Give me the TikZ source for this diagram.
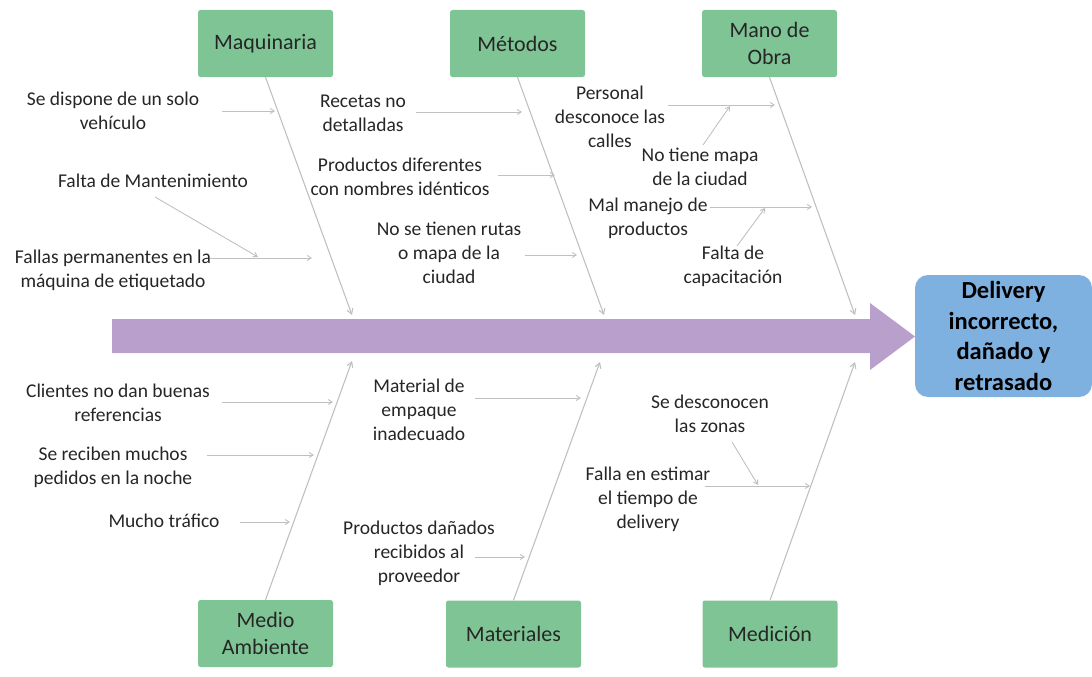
\documentclass[tikz,border=0pt]{standalone}
\usepackage{fontspec}
\setmainfont{Carlito}
\usetikzlibrary{arrows.meta}
\definecolor{catgreen}{RGB}{127,196,148}
\definecolor{spinecol}{RGB}{185,160,204}
\definecolor{headblue}{RGB}{126,176,224}
\definecolor{bonecol}{RGB}{192,192,192}
\definecolor{txt}{RGB}{38,38,38}
\begin{document}
\begin{tikzpicture}[x=1pt,y=-1pt,
  cat/.style={fill=catgreen, rounded corners=2.5pt, minimum width=135pt, minimum height=67pt,
    font=\fontsize{22}{27}\selectfont, text=txt, align=center, inner sep=0pt},
  lab/.style={font=\fontsize{19.5}{23.8}\selectfont, text=txt, align=center, inner sep=0pt},
  headbox/.style={fill=headblue, rounded corners=13pt, minimum width=177pt, minimum height=122pt,
    font=\fontsize{24.5}{30.5}\selectfont\bfseries, text=black, align=center, inner sep=0pt},
  bonearrow/.style={draw=bonecol, line width=1.1pt, -{Straight Barb[length=5pt,width=6pt]}},
  subarrow/.style={draw=bonecol, line width=0.9pt, -{Straight Barb[length=4pt,width=5pt]}}
]
\useasboundingbox (0,0) rectangle (1092,677);

% spine arrow
\fill[spinecol] (112,319) -- (870,319) -- (870,303) -- (915,336.5) -- (870,370) -- (870,353) -- (112,353) -- cycle;

% effect
\node[headbox] (effect) at (1003.5,336) {Delivery\\incorrecto,\\dañado y\\retrasado};

% categories
\node[cat] (maq) at (265.5,43.5) {Maquinaria};
\node[cat] (met) at (517.5,43.5) {Métodos};
\node[cat] (mano) at (769.5,43.5) {Mano de\\Obra};
\node[cat] (amb) at (265.5,633.5) {Medio\\Ambiente};
\node[cat] (mat) at (513.5,634) {Materiales};
\node[cat] (med) at (770,634) {Medición};

% bone ends
\coordinate (maqE) at (352,315);
\coordinate (metE) at (604,315);
\coordinate (manoE) at (855,315);
\coordinate (ambE) at (352,361);
\coordinate (matE) at (600,362);
\coordinate (medE) at (855,362);
\draw[bonearrow] (maq.south) -- (maqE);
\draw[bonearrow] (met.south) -- (metE);
\draw[bonearrow] (mano.south) -- (manoE);
\draw[bonearrow] (amb.north) -- (ambE);
\draw[bonearrow] (mat.north) -- (matE);
\draw[bonearrow] (med.north) -- (medE);

% labels
\node[lab] (l1) at (113,110.5) {Se dispone de un solo\\vehículo};
\node[lab] (l2) at (153,181) {Falta de Mantenimiento};
\node[lab] (l3) at (113,270) {Fallas permanentes en la\\máquina de etiquetado};
\node[lab] (l4) at (363,113) {Recetas no\\detalladas};
\node[lab] (l5) at (400,176.5) {Productos diferentes\\con nombres idénticos};
\node[lab] (l6) at (449,253) {No se tienen rutas\\o mapa de la\\ciudad};
\node[lab] (l7) at (610,117) {Personal\\desconoce las\\calles};
\node[lab] (l8) at (700,166.5) {No tiene mapa\\de la ciudad};
\node[lab] (l9) at (648,218.5) {Mal manejo de\\productos};
\node[lab] (l10) at (733,266) {Falta de\\capacitación};
\node[lab] (l11) at (118,402.5) {Clientes no dan buenas\\referencias};
\node[lab] (l12) at (113,467) {Se reciben muchos\\pedidos en la noche};
\node[lab] (l13) at (164,521) {Mucho tráfico};
\node[lab] (l14) at (419,410) {Material de\\empaque\\inadecuado};
\node[lab] (l15) at (419,553) {Productos dañados\\recibidos al\\proveedor};
\node[lab] (l16) at (710,414) {Se desconocen\\las zonas};
\node[lab] (l17) at (648,499) {Falla en estimar\\el tiempo de\\delivery};

% sub-arrow endpoints
\coordinate (s1) at (222,111);  \coordinate (e1) at (275,111);
\coordinate (s2) at (155,197);  \coordinate (e2) at (258,257);
\coordinate (s3) at (210,258);  \coordinate (e3) at (312,258);
\coordinate (s4) at (416,112);  \coordinate (e4) at (522,112);
\coordinate (s5) at (498,175);  \coordinate (e5) at (555,175);
\coordinate (s6) at (525,255);  \coordinate (e6) at (577,255);
\coordinate (s7) at (668,105);  \coordinate (e7) at (775,105);
\coordinate (s8) at (703,145);  \coordinate (e8) at (730,106);
\coordinate (s9) at (710,207);  \coordinate (e9) at (812,207);
\coordinate (s10) at (737,246); \coordinate (e10) at (765,208);
\coordinate (s11) at (222,402); \coordinate (e11) at (333,402);
\coordinate (s12) at (207,455); \coordinate (e12) at (314,455);
\coordinate (s13) at (240,522); \coordinate (e13) at (290,522);
\coordinate (s14) at (475,398); \coordinate (e14) at (581,398);
\coordinate (s15) at (475,557); \coordinate (e15) at (525,557);
\coordinate (s16) at (732,442); \coordinate (e16) at (758,485);
\coordinate (s17) at (705,486); \coordinate (e17) at (810,486);
\foreach \i in {1,...,17} {\draw[subarrow] (s\i) -- (e\i);}
\end{tikzpicture}
\end{document}
